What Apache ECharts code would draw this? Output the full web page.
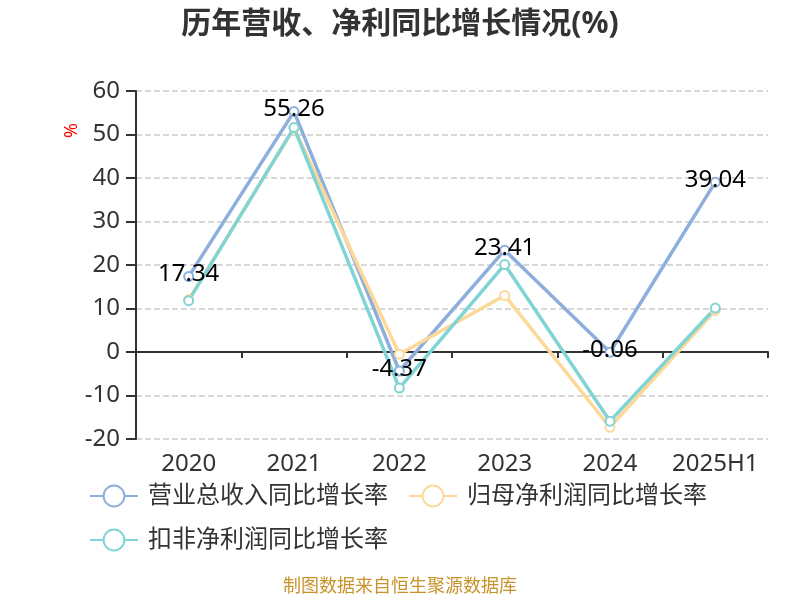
<!DOCTYPE html>
<html>
<head>
    <meta charset="utf-8">
    <script src="https://cdn.jsdelivr.net/npm/echarts@6/dist/echarts.min.js"></script>
</head>
<body style="margin:0">
<div id="main" style="width: 800px;height:600px;"></div>
<script type="text/javascript">
    // 数据
    const years = ['2020', '2021', '2022', '2023', '2024', '2025H1'];
    const revenueGrowth = [17.34, 55.26, -4.37, 23.41, -0.06, 39.04];
    const netProfitGrowth = [12.0, 51.5, -0.5, 13.0, -17.3, 9.6];
    const deductedProfitGrowth = [11.8, 51.6, -8.3, 20.1, -15.9, 10.1];
    const yTicks = {min: -20, max: 60, interval: 10};

    const myChart = echarts.init(document.getElementById('main'));
    const font = '"Noto Sans", "Noto Sans CJK SC", sans-serif';

    const option = {
        textStyle: {fontFamily: font},
        title: {
            text: '历年营收、净利同比增长情况(%)',
            left: 'center',
            top: 4,
            textStyle: {fontSize: 30, fontWeight: 'bold', color: '#333', fontFamily: font}
        },
        legend: {
            left: 84,
            top: 479,
            width: 640,
            itemGap: 20,
            itemWidth: 48,
            itemHeight: 26,
            textStyle: {fontSize: 24, color: '#333', padding: [0, 0, 0, 5]},
            data: ['营业总收入同比增长率', '归母净利润同比增长率', '扣非净利润同比增长率']
        },
        grid: {left: 136, right: 32, top: 91, bottom: 161},
        xAxis: [{
            type: 'category',
            data: years,
            axisLine: {show: false, onZero: false},
            axisTick: {show: false},
            axisLabel: {fontSize: 24, color: '#333', margin: 13, interval: 0}
        }, {
            type: 'category',
            data: years,
            position: 'bottom',
            axisLine: {onZero: true, lineStyle: {color: '#333', width: 2}},
            axisTick: {show: true, length: 6, lineStyle: {color: '#333', width: 2}},
            axisLabel: {show: false}
        }],
        yAxis: {
            type: 'value',
            min: yTicks.min,
            max: yTicks.max,
            interval: yTicks.interval,
            axisLine: {show: true, lineStyle: {color: '#333', width: 2}},
            axisTick: {show: true, length: 10, lineStyle: {color: '#333', width: 2}},
            axisLabel: {fontSize: 24, color: '#333', margin: 16},
            splitLine: {lineStyle: {type: 'dashed', color: '#ccc', width: 1.5}}
        },
        graphic: [{
            type: 'text',
            x: 63,
            y: 138,
            rotation: Math.PI / 2,
            style: {text: '%', fill: '#ff0000', fontSize: 18, fontFamily: font}
        }, {
            type: 'text',
            left: 'center',
            top: 578,
            style: {text: '制图数据来自恒生聚源数据库', fill: '#c8922a', fontSize: 18, fontFamily: font}
        }],
        series: [{
            name: '营业总收入同比增长率',
            type: 'line',
            data: revenueGrowth,
            symbol: 'emptyCircle',
            symbolSize: 9,
            z: 3,
            itemStyle: {color: '#8eaedc'},
            lineStyle: {width: 3.5},
            label: {show: true, position: 'inside', fontSize: 24, color: '#000', offset: [0, -2]}
        }, {
            name: '归母净利润同比增长率',
            type: 'line',
            data: netProfitGrowth,
            symbol: 'emptyCircle',
            symbolSize: 9,
            itemStyle: {color: '#fdd898'},
            lineStyle: {width: 3.5}
        }, {
            name: '扣非净利润同比增长率',
            type: 'line',
            data: deductedProfitGrowth,
            symbol: 'emptyCircle',
            symbolSize: 9,
            itemStyle: {color: '#80d4d4'},
            lineStyle: {width: 3.5}
        }]
    };

    myChart.setOption(option);
</script>
</body>
</html>
